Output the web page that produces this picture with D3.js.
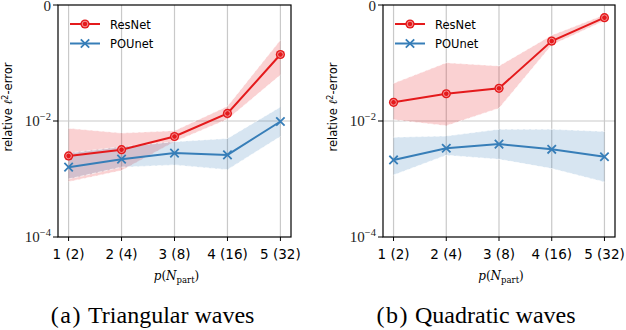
<!DOCTYPE html>
<html>
<head>
<meta charset="utf-8">
<script src="https://cdn.jsdelivr.net/npm/d3@7"></script>
<style>
  body { margin: 0; background: #fff; }
  svg { display: block; }
</style>
</head>
<body>
<div id="chart"></div>
<script>
var xTicks = ["1 (2)", "2 (4)", "3 (8)", "4 (16)", "5 (32)"],
	ps = [1, 2, 3, 4, 5];

// (a) triangular waves
var triResnet   = [2.5e-3, 3.2e-3, 5.4e-3, 1.35e-2, 0.14],
	triResnetLo = [9.0e-4, 1.4e-3, 4.4e-3, 1.07e-2, 0.062],
	triResnetHi = [7.5e-3, 6.2e-3, 6.8e-3, 1.8e-2, 0.25],
	triPounet   = [1.6e-3, 2.2e-3, 2.8e-3, 2.6e-3, 9.8e-3],
	triPounetLo = [1.0e-3, 1.6e-3, 1.75e-3, 1.45e-3, 5.4e-3],
	triPounetHi = [2.8e-3, 3.6e-3, 4.4e-3, 5.0e-3, 1.75e-2];

// (b) quadratic waves
var quadResnet   = [0.021, 0.0295, 0.0366, 0.239, 0.604],
	quadResnetLo = [0.0105, 0.0083, 0.0166, 0.204, 0.537],
	quadResnetHi = [0.0447, 0.101, 0.089, 0.302, 0.676],
	quadPounet   = [2.13e-3, 3.39e-3, 4.0e-3, 3.25e-3, 2.42e-3],
	quadPounetLo = [1.17e-3, 2.57e-3, 2.19e-3, 1.51e-3, 8.9e-4],
	quadPounetHi = [5.25e-3, 5.5e-3, 7.2e-3, 7.2e-3, 6.6e-3];

var yTicks = [1e-4, 1e-2, 1],
	yTickExp = ["−4", "−2", null];

var red = "#e41a1c", blue = "#377eb8";

var svg = d3.select("#chart").append("svg")
	.attr("width", 626)
	.attr("height", 330);

var panels = [
	{ left: 58, right: 291, tag: "(a)", caption: "Triangular waves", capX: 85,
	  resnet: triResnet, resLo: triResnetLo, resHi: triResnetHi,
	  pounet: triPounet, pouLo: triPounetLo, pouHi: triPounetHi },
	{ left: 383, right: 615, tag: "(b)", caption: "Quadratic waves", capX: 412,
	  resnet: quadResnet, resLo: quadResnetLo, resHi: quadResnetHi,
	  pounet: quadPounet, pouLo: quadPounetLo, pouHi: quadPounetHi }
];

var yTop = 5, yBottom = 237;

panels.forEach(function(p) {
	var x = d3.scaleLinear().domain([0.8, 5.2]).range([p.left, p.right]),
		y = d3.scaleLog().domain([1e-4, 1]).range([yBottom, yTop]);

	var g = svg.append("g");

	// grid
	g.selectAll(".vgrid").data(ps).enter().append("line")
		.attr("x1", function(d) { return x(d); })
		.attr("x2", function(d) { return x(d); })
		.attr("y1", yTop).attr("y2", yBottom)
		.style("stroke", "#c9c9c9").style("stroke-width", 1.2);
	g.append("line")
		.attr("x1", p.left).attr("x2", p.right)
		.attr("y1", y(1e-2)).attr("y2", y(1e-2))
		.style("stroke", "#c9c9c9").style("stroke-width", 1.2);

	function band(lo, hi, col) {
		var area = d3.area()
			.x(function(d, i) { return x(ps[i]); })
			.y0(function(d, i) { return y(lo[i]); })
			.y1(function(d, i) { return y(hi[i]); });
		g.append("path").attr("d", area(lo))
			.style("fill", col).style("fill-opacity", 0.2);
		[lo, hi].forEach(function(arr) {
			var ln = d3.line()
				.x(function(d, i) { return x(ps[i]); })
				.y(function(d) { return y(d); });
			g.append("path").attr("d", ln(arr))
				.style("fill", "none").style("stroke", "#fff")
				.style("stroke-width", 0.8).style("stroke-dasharray", "4,2")
				.style("opacity", 0.8);
		});
	}
	band(p.resLo, p.resHi, red);
	band(p.pouLo, p.pouHi, blue);

	var line = d3.line()
		.x(function(d, i) { return x(ps[i]); })
		.y(function(d) { return y(d); });

	g.append("path").attr("d", line(p.resnet))
		.style("fill", "none").style("stroke", red).style("stroke-width", 2);
	g.append("path").attr("d", line(p.pounet))
		.style("fill", "none").style("stroke", blue).style("stroke-width", 2);

	function circMarker(sel, cx, cy) {
		sel.append("circle").attr("cx", cx).attr("cy", cy).attr("r", 4.6)
			.style("fill", red);
		sel.append("circle").attr("cx", cx).attr("cy", cy).attr("r", 2.8)
			.style("fill", "none").style("stroke", "#f9b0b0").style("stroke-width", 0.8);
	}
	function xMarker(sel, cx, cy) {
		var s = 4.2;
		sel.append("path")
			.attr("d", "M" + (cx - s) + "," + (cy - s) + "L" + (cx + s) + "," + (cy + s) +
				"M" + (cx - s) + "," + (cy + s) + "L" + (cx + s) + "," + (cy - s))
			.style("stroke", blue).style("stroke-width", 1.8);
	}
	p.resnet.forEach(function(d, i) { circMarker(g, x(ps[i]), y(d)); });
	p.pounet.forEach(function(d, i) { xMarker(g, x(ps[i]), y(d)); });

	// spines
	g.append("rect")
		.attr("x", p.left).attr("y", yTop)
		.attr("width", p.right - p.left).attr("height", yBottom - yTop)
		.style("fill", "none").style("stroke", "#000").style("stroke-width", 1.2);

	// x ticks
	g.selectAll(".xt").data(ps).enter().append("line")
		.attr("x1", function(d) { return x(d); })
		.attr("x2", function(d) { return x(d); })
		.attr("y1", yBottom).attr("y2", yBottom + 4)
		.style("stroke", "#000").style("stroke-width", 1);
	g.selectAll(".xl").data(ps).enter().append("text")
		.attr("x", function(d) { return x(d); })
		.attr("y", 259)
		.attr("text-anchor", "middle")
		.style("font-family", "'DejaVu Sans', sans-serif")
		.style("font-size", "13.5px")
		.text(function(d, i) { return xTicks[i]; });

	// x label
	var xl = g.append("text")
		.attr("x", (p.left + p.right) / 2 + 2).attr("y", 280)
		.attr("text-anchor", "middle")
		.style("font-family", "'DejaVu Serif', serif")
		.style("font-size", "12px");
	xl.append("tspan").style("font-style", "italic").text("p");
	xl.append("tspan").text("(");
	xl.append("tspan").style("font-style", "italic").text("N");
	xl.append("tspan").attr("dy", 3).style("font-size", "8.5px").text("part");
	xl.append("tspan").attr("dy", -3).text(")");

	// y ticks
	yTicks.forEach(function(t, i) {
		g.append("line")
			.attr("x1", p.left - 5).attr("x2", p.left)
			.attr("y1", y(t)).attr("y2", y(t))
			.style("stroke", "#000").style("stroke-width", 1);
		var tx = g.append("text")
			.attr("x", p.left - 7).attr("y", yTickExp[i] ? y(t) + 5 : y(t) + 6)
			.attr("text-anchor", "end")
			.style("font-family", "'Liberation Serif', serif")
			.style("font-size", "15px")
			.style("fill", "#222");
		if (yTickExp[i]) {
			tx.append("tspan").text("10");
			tx.append("tspan").attr("dy", -6).style("font-size", "10.5px").text(yTickExp[i]);
		} else {
			tx.text("0");
		}
	});

	// y label
	var yl = g.append("text")
		.attr("transform", "translate(" + (p.left - 46) + ",107) rotate(-90)")
		.attr("text-anchor", "middle")
		.style("font-family", "'DejaVu Sans', sans-serif")
		.style("font-size", "11.5px");
	yl.append("tspan").text("relative ");
	yl.append("tspan").style("font-family", "'DejaVu Serif', serif").style("font-style", "italic").text("ℓ");
	yl.append("tspan").attr("dy", -4).style("font-size", "8px").text("2");
	yl.append("tspan").attr("dy", 4).text("-error");

	// legend
	var lx = p.left + 12;
	[["ResNet", red, 24], ["POUnet", blue, 43.5]].forEach(function(l) {
		g.append("line")
			.attr("x1", lx).attr("x2", lx + 30)
			.attr("y1", l[2]).attr("y2", l[2])
			.style("stroke", l[1]).style("stroke-width", 2);
		if (l[0] === "ResNet") circMarker(g, lx + 15, l[2]);
		else xMarker(g, lx + 15, l[2]);
		g.append("text")
			.attr("x", lx + 40).attr("y", l[2] + 4.5)
			.style("font-family", "'DejaVu Sans', sans-serif")
			.style("font-size", "11.5px")
			.text(l[0]);
	});

	// caption
	svg.append("text")
		.attr("x", p.capX - 3).attr("y", 323)
		.attr("text-anchor", "end")
		.style("font-family", "'Liberation Serif', serif")
		.style("font-size", "24px")
		.style("letter-spacing", "1.5px")
		.text(p.tag);
	svg.append("text")
		.attr("x", p.capX + 3).attr("y", 323)
		.attr("text-anchor", "start")
		.style("font-family", "'Liberation Serif', serif")
		.style("font-size", "24px")
		.text(p.caption);
});
</script>
</body>
</html>
